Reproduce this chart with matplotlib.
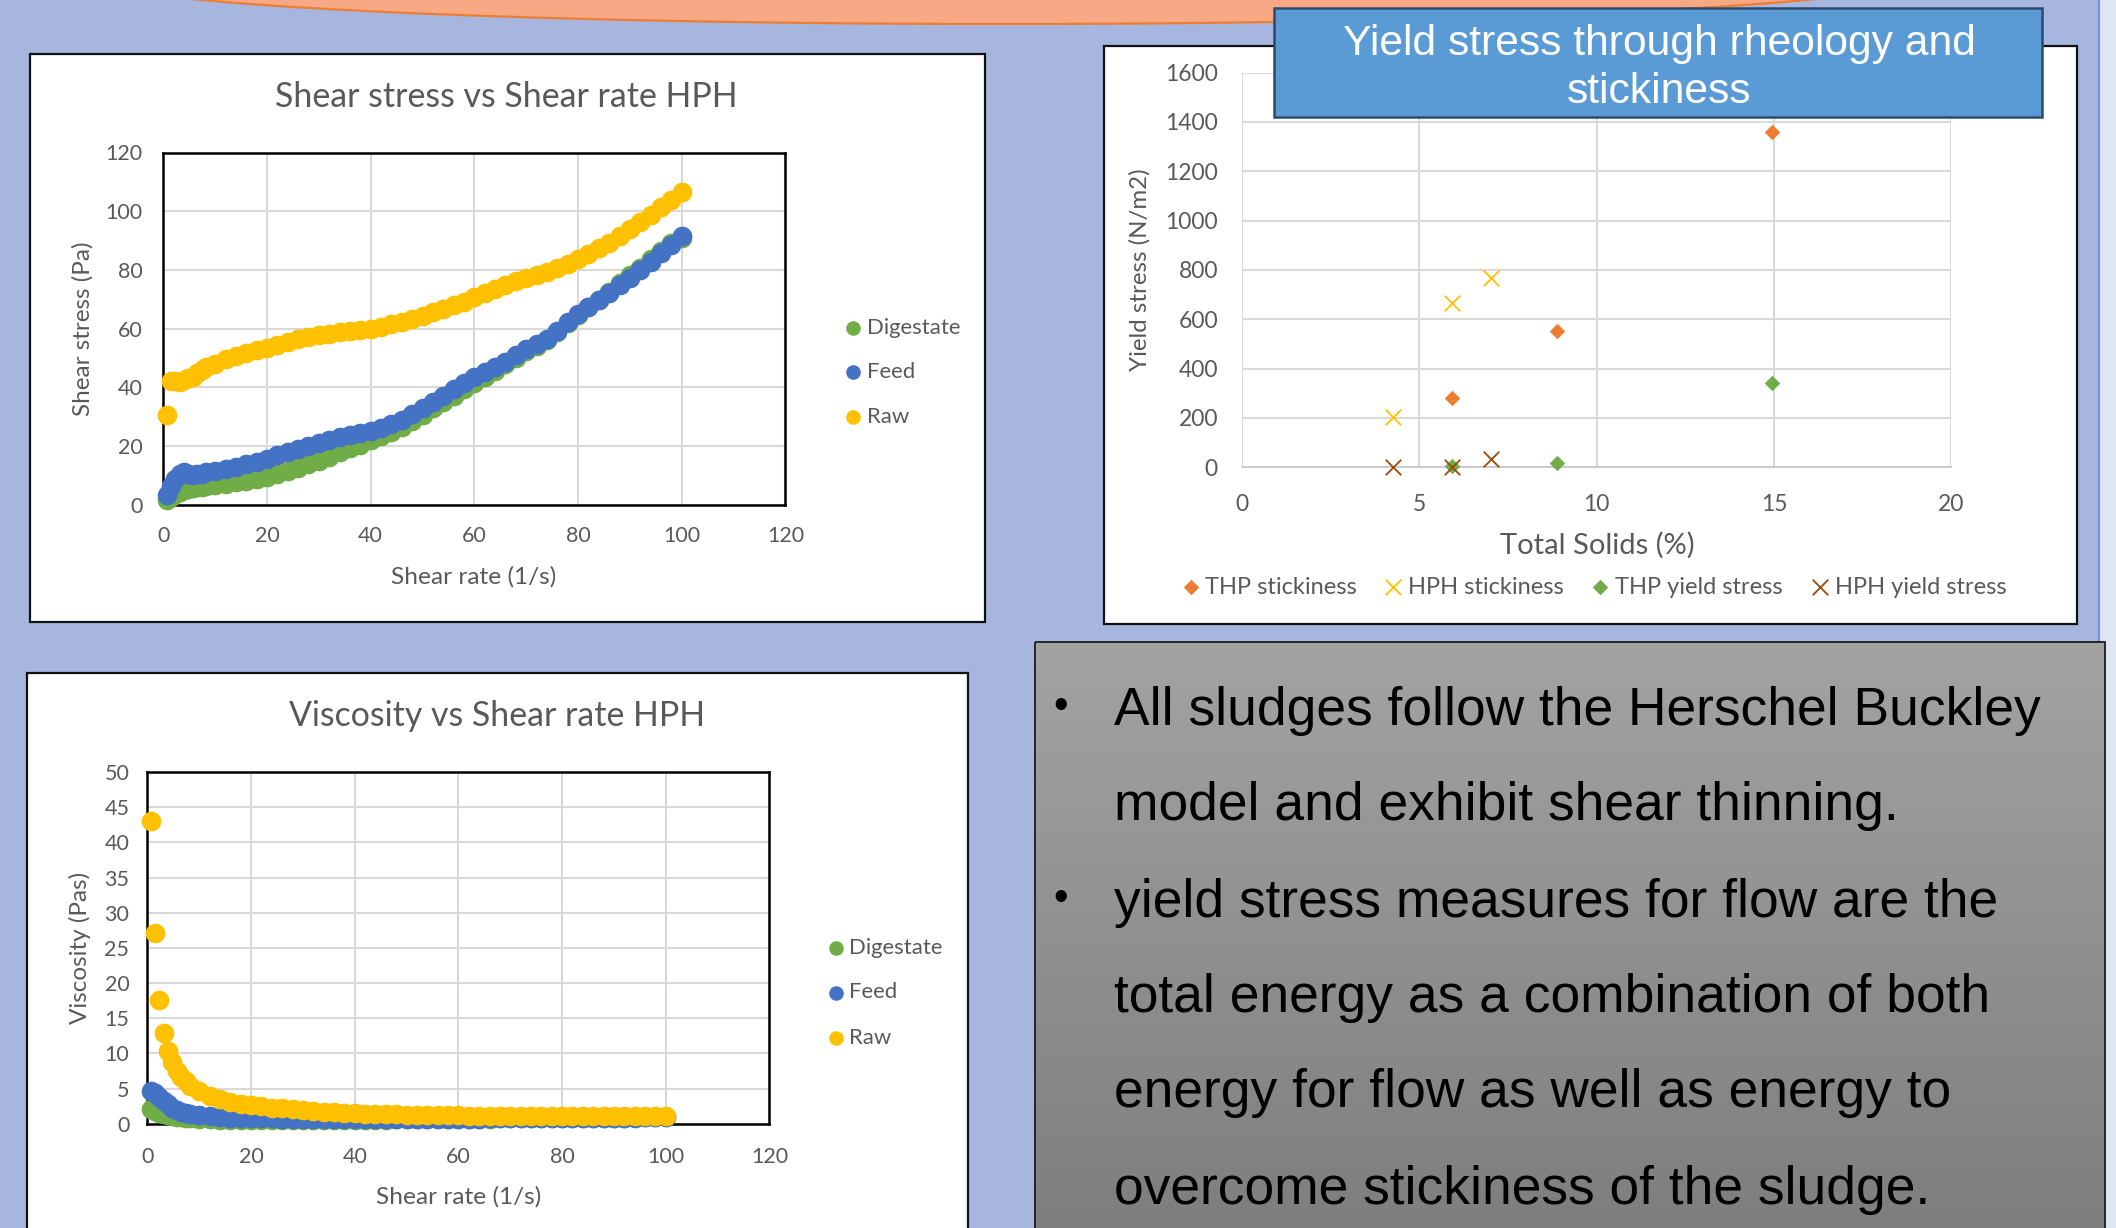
import matplotlib
matplotlib.use("Agg")
import matplotlib.pyplot as plt
from matplotlib.patches import Rectangle, Ellipse
from matplotlib.colors import LinearSegmentedColormap
import numpy as np

W, H, DPI = 2116, 1228, 100

# ---------------- data ----------------
shear_rate = [0.7, 1.5, 2.3, 3.2, 4.0, 4.8, 5.7, 6.5, 7.4, 8.3,
              10, 12, 14, 16, 18, 20, 22, 24, 26, 28, 30, 32, 34, 36, 38, 40,
              42, 44, 46, 48, 50, 52, 54, 56, 58, 60, 62, 64, 66, 68, 70,
              72, 74, 76, 78, 80, 82, 84, 86, 88, 90, 92, 94, 96, 98, 100]

stress_digestate = [1.5, 2.6, 3.6, 4.4, 5.0, 5.4, 5.7, 6.0, 6.2, 6.4,
                    6.8, 7.2, 7.6, 8.0, 8.6, 9.3, 10.3, 11.4, 12.6, 13.8, 15.0, 16.4, 17.8, 19.2, 20.5, 22.0,
                    23.4, 24.9, 26.6, 28.6, 30.6, 32.8, 35.0, 37.2, 39.4, 41.6, 43.6, 45.6, 47.8, 50.1, 52.2,
                    54.1, 56.0, 58.8, 61.8, 64.6, 67.2, 69.7, 72.5, 75.5, 78.2, 80.8, 83.6, 86.4, 89.0, 91.0]
stress_feed = [3.3, 6.5, 8.8, 10.3, 11.2, 10.6, 10.1, 10.3, 10.6, 11.0,
               11.6, 12.3, 13.0, 13.7, 14.4, 15.5, 16.8, 18.0, 19.0, 20.0, 21.0, 22.0, 22.9, 23.7, 24.4, 25.2,
               26.1, 27.4, 29.0, 30.9, 32.9, 35.0, 37.2, 39.3, 41.4, 43.4, 45.1, 46.8, 48.7, 50.9, 52.9,
               54.7, 56.5, 59.2, 62.1, 64.9, 67.4, 69.8, 72.2, 74.8, 77.4, 80.0, 82.8, 85.7, 88.6, 91.7]
stress_raw = [30.5, 42.0, 42.2, 41.8, 42.5, 43.0, 43.6, 44.8, 45.8, 46.8,
              48.0, 49.5, 50.8, 51.8, 52.6, 53.5, 54.5, 55.5, 56.4, 57.2, 57.8, 58.3, 58.8, 59.2, 59.6, 60.0,
              60.6, 61.4, 62.4, 63.4, 64.4, 65.5, 66.7, 67.9, 69.2, 70.6, 72.0, 73.4, 74.8, 76.1, 77.3,
              78.3, 79.3, 80.5, 82.0, 83.6, 85.3, 87.3, 89.3, 91.5, 94.0, 96.3, 98.8, 101.3, 103.8, 106.5]

visc_digestate = [2.1, 1.75, 1.55, 1.4, 1.3, 1.15, 1.0, 0.92, 0.84, 0.78,
                  0.68, 0.6, 0.54, 0.5, 0.48, 0.46, 0.47, 0.48, 0.48, 0.49, 0.5, 0.51, 0.52, 0.53, 0.54, 0.55,
                  0.56, 0.57, 0.58, 0.6, 0.61, 0.63, 0.65, 0.66, 0.68, 0.69, 0.7, 0.71, 0.72, 0.74, 0.75,
                  0.75, 0.76, 0.77, 0.79, 0.81, 0.82, 0.83, 0.84, 0.86, 0.87, 0.88, 0.89, 0.9, 0.91, 0.91]
visc_feed = [4.6, 4.3, 3.8, 3.2, 2.8, 2.3, 1.9, 1.65, 1.5, 1.38,
             1.2, 1.05, 0.95, 0.88, 0.82, 0.78, 0.76, 0.75, 0.73, 0.71, 0.70, 0.69, 0.67, 0.66, 0.64, 0.63,
             0.62, 0.62, 0.63, 0.64, 0.66, 0.67, 0.69, 0.70, 0.71, 0.72, 0.73, 0.73, 0.74, 0.75, 0.76,
             0.76, 0.76, 0.78, 0.8, 0.81, 0.82, 0.83, 0.84, 0.85, 0.86, 0.87, 0.88, 0.89, 0.9, 0.92]
visc_raw = [43.0, 27.1, 17.6, 12.9, 10.4, 8.8, 7.5, 6.7, 6.0, 5.4,
            4.6, 3.9, 3.5, 3.1, 2.8, 2.65, 2.5, 2.3, 2.2, 2.05, 1.95, 1.83, 1.73, 1.65, 1.57, 1.5,
            1.45, 1.4, 1.36, 1.32, 1.29, 1.26, 1.24, 1.22, 1.2, 1.18, 1.16, 1.15, 1.13, 1.12, 1.1,
            1.09, 1.08, 1.06, 1.05, 1.05, 1.04, 1.04, 1.04, 1.04, 1.04, 1.04, 1.05, 1.05, 1.06, 1.07]

sludge_names = ["Digestate", "Feed", "Raw"]

ts_thp = [5.93, 8.9, 14.94]
thp_stickiness = [281, 551, 1357]
thp_yield = [5, 16, 342]
ts_hph = [4.27, 5.92, 7.03]
hph_stickiness = [203, 667, 769]
hph_yield = [3, 3, 33]
yield_names = ["THP stickiness", "HPH stickiness", "THP yield stress", "HPH yield stress"]

bullets = [
    ["All sludges follow the Herschel Buckley",
     "model and exhibit shear thinning."],
    ["yield stress measures for flow are the",
     "total energy as a combination of both",
     "energy for flow as well as energy to",
     "overcome stickiness of the sludge."],
]

# ---------------- styling ----------------
C_SLUDGE = ["#70AD47", "#4472C4", "#FFC000"]
C_YIELD = ["#ED7D31", "#FFC000", "#70AD47", "#9E480E"]
TXT = "#595959"
GRID = "#D9D9D9"
ARIAL = "Liberation Sans"
plt.rcParams["font.family"] = ["Lato", "DejaVu Sans"]

DOT = 200          # scatter dot area (pt^2) in the rheology charts
DIAM, CROSS = 62, 125

fig = plt.figure(figsize=(W / DPI, H / DPI), dpi=DPI)
fig.patch.set_facecolor("#A6B6DE")


def px_axes(x0, y0, x1, y1, z):
    return fig.add_axes([x0 / W, 1 - y1 / H, (x1 - x0) / W, (y1 - y0) / H], zorder=z)


def px_frame(ax):
    ax.set_xlim(0, W)
    ax.set_ylim(H, 0)
    ax.axis("off")


bg = px_axes(0, 0, W, H, 0)
bg.add_patch(Rectangle((0, 0), W, H, facecolor="#A6B6DE", edgecolor="none", zorder=0))
bg.add_patch(Rectangle((2099, 0), 17, H, facecolor="#DEE6F2", edgecolor="none", zorder=0.5))
bg.plot([2099, 2099], [0, H], color="#7393DA", lw=1.5, zorder=0.6)
bg.add_patch(Ellipse((1004, -20), 1800, 88, facecolor="#F7A985", edgecolor="#ED7D31",
                     lw=1.6, zorder=1))

# white chart panels
for (x0, y0, x1, y1) in [(30, 54, 985, 622), (1104, 46, 2077, 624), (27, 673, 968, 1240)]:
    bg.add_patch(Rectangle((x0, y0), x1 - x0, y1 - y0, facecolor="white",
                           edgecolor="#111111", lw=1.6, zorder=2))

# grey text panel with vertical gradient
grad = np.linspace(0, 1, 256)[:, None]
cmap = LinearSegmentedColormap.from_list("panel", ["#A3A3A3", "#7E7E7E"])
bg.imshow(grad, extent=(1035, 2105, 1230, 642), origin="upper", cmap=cmap,
          aspect="auto", zorder=2, interpolation="bilinear")
bg.add_patch(Rectangle((1035, 642), 1070, 600, fill=False, edgecolor="#262626", lw=1.4, zorder=2.1))

baselines = [724.7, 819.7, 916.6, 1011.6, 1106.6, 1203.6]
bullet_y = [707, 899]
k = 0
for bi, lines in enumerate(bullets):
    bg.text(1061, bullet_y[bi], "\u2022", ha="center", va="center", fontsize=30,
            color="black", family=ARIAL, zorder=3)
    for ln in lines:
        bg.text(1114.5, baselines[k], ln, ha="left", va="baseline", fontsize=38.4,
                color="black", family=ARIAL, zorder=3)
        k += 1
px_frame(bg)


def excel_style(ax, xticks, yticks, fs, padx, pady):
    ax.set_xticks(xticks)
    ax.set_yticks(yticks)
    ax.grid(True, color=GRID, lw=1.5)
    ax.set_axisbelow(True)
    ax.tick_params(axis="both", length=0, labelsize=fs, labelcolor=TXT)
    ax.tick_params(axis="x", pad=padx)
    ax.tick_params(axis="y", pad=pady)


# ---- chart 1: shear stress ----
ax1 = px_axes(163.3, 152.5, 785.4, 504.7, 3)
for ys, col in zip([stress_digestate, stress_feed, stress_raw], C_SLUDGE):
    ax1.scatter(shear_rate, ys, s=DOT, color=col, lw=0, clip_on=False, zorder=3)
ax1.set_xlim(0, 120)
ax1.set_ylim(0, 120)
excel_style(ax1, range(0, 121, 20), range(0, 121, 20), 15.5, 15, 15)
for sp in ax1.spines.values():
    sp.set_color("black")
    sp.set_linewidth(1.8)

# ---- chart 3: viscosity ----
ax3 = px_axes(147.4, 772, 769.4, 1123.7, 3)
for ys, col in zip([visc_digestate, visc_feed, visc_raw], C_SLUDGE):
    ax3.scatter(shear_rate, ys, s=DOT, color=col, lw=0, clip_on=False, zorder=3)
ax3.set_xlim(0, 120)
ax3.set_ylim(0, 50)
excel_style(ax3, range(0, 121, 20), range(0, 51, 5), 15.5, 17, 13)
for sp in ax3.spines.values():
    sp.set_color("black")
    sp.set_linewidth(1.8)

# ---- chart 2: yield stress vs total solids ----
ax2 = px_axes(1241.6, 72.5, 1951.4, 467.3, 3)
ax2.scatter(ts_thp, thp_stickiness, marker="D", s=DIAM, color=C_YIELD[0], lw=0, clip_on=False, zorder=3)
ax2.scatter(ts_hph, hph_stickiness, marker="x", s=CROSS, color=C_YIELD[1], lw=1.3, clip_on=False, zorder=3)
ax2.scatter(ts_thp, thp_yield, marker="D", s=DIAM, color=C_YIELD[2], lw=0, clip_on=False, zorder=3)
ax2.scatter(ts_hph, hph_yield, marker="x", s=CROSS, color=C_YIELD[3], lw=1.3, clip_on=False, zorder=3)
ax2.set_xlim(0, 20)
ax2.set_ylim(0, 1600)
excel_style(ax2, range(0, 21, 5), range(0, 1601, 200), 16.5, 19, 17)
for name, sp in ax2.spines.items():
    sp.set_visible(name == "bottom")
ax2.spines["bottom"].set_color("#C8C8C8")
ax2.spines["bottom"].set_linewidth(1.3)

# ---- overlay: titles, axis labels, legends, heading box ----
ov = px_axes(0, 0, W, H, 10)
ov.patch.set_alpha(0)

ov.text(506, 97, "Shear stress vs Shear rate HPH", ha="center", va="center", fontsize=24.4, color=TXT)
ov.text(473.3, 577, "Shear rate (1/s)", ha="center", va="center", fontsize=17.6, color=TXT)
ov.text(82.5, 328.6, "Shear stress (Pa)", ha="center", va="center", rotation=90, fontsize=17.5, color=TXT)

ov.text(497, 716, "Viscosity vs Shear rate HPH", ha="center", va="center", fontsize=24.4, color=TXT)
ov.text(458.4, 1197, "Shear rate (1/s)", ha="center", va="center", fontsize=17.6, color=TXT)
ov.text(79.8, 947.5, "Viscosity (Pas)", ha="center", va="center", rotation=90, fontsize=17.5, color=TXT)

ov.text(1597, 545, "Total Solids (%)", ha="center", va="center", fontsize=21, color=TXT)
ov.text(1140, 270, "Yield stress (N/m2)", ha="center", va="center", rotation=90, fontsize=17.3, color=TXT)

for name, col, y in zip(sludge_names, C_SLUDGE, [327.8, 372.2, 417.1]):
    ov.scatter([853.3], [y], s=110, color=col, lw=0)
    ov.text(866.8, y, name, ha="left", va="center", fontsize=15.9, color=TXT)
for name, col, y in zip(sludge_names, C_SLUDGE, [948.2, 992.5, 1037.5]):
    ov.scatter([836.4], [y], s=110, color=col, lw=0)
    ov.text(848.6, y, name, ha="left", va="center", fontsize=15.9, color=TXT)

leg_marker_x = [1190.7, 1393.3, 1600, 1820.2]
leg_text_x = [1205, 1407.6, 1615, 1835.2]
leg_marker = ["D", "x", "D", "x"]
for name, col, mk, mx, tx in zip(yield_names, C_YIELD, leg_marker, leg_marker_x, leg_text_x):
    if mk == "D":
        ov.scatter([mx], [587], marker=mk, s=DIAM, color=col, lw=0)
    else:
        ov.scatter([mx], [587], marker=mk, s=CROSS, color=col, lw=1.3)
    ov.text(tx, 587, name, ha="left", va="center", fontsize=17, color=TXT)

ov.add_patch(Rectangle((1274, 8), 768, 109, facecolor="#5B9BD5", edgecolor="#2F4B6C", lw=1.8, zorder=5))
ov.text(1659, 55, "Yield stress through rheology and", ha="center", va="baseline",
        fontsize=30.7, color="white", family=ARIAL, zorder=6)
ov.text(1659, 103.3, "stickiness", ha="center", va="baseline",
        fontsize=30.7, color="white", family=ARIAL, zorder=6)
px_frame(ov)

fig.savefig("out.png", dpi=DPI)
